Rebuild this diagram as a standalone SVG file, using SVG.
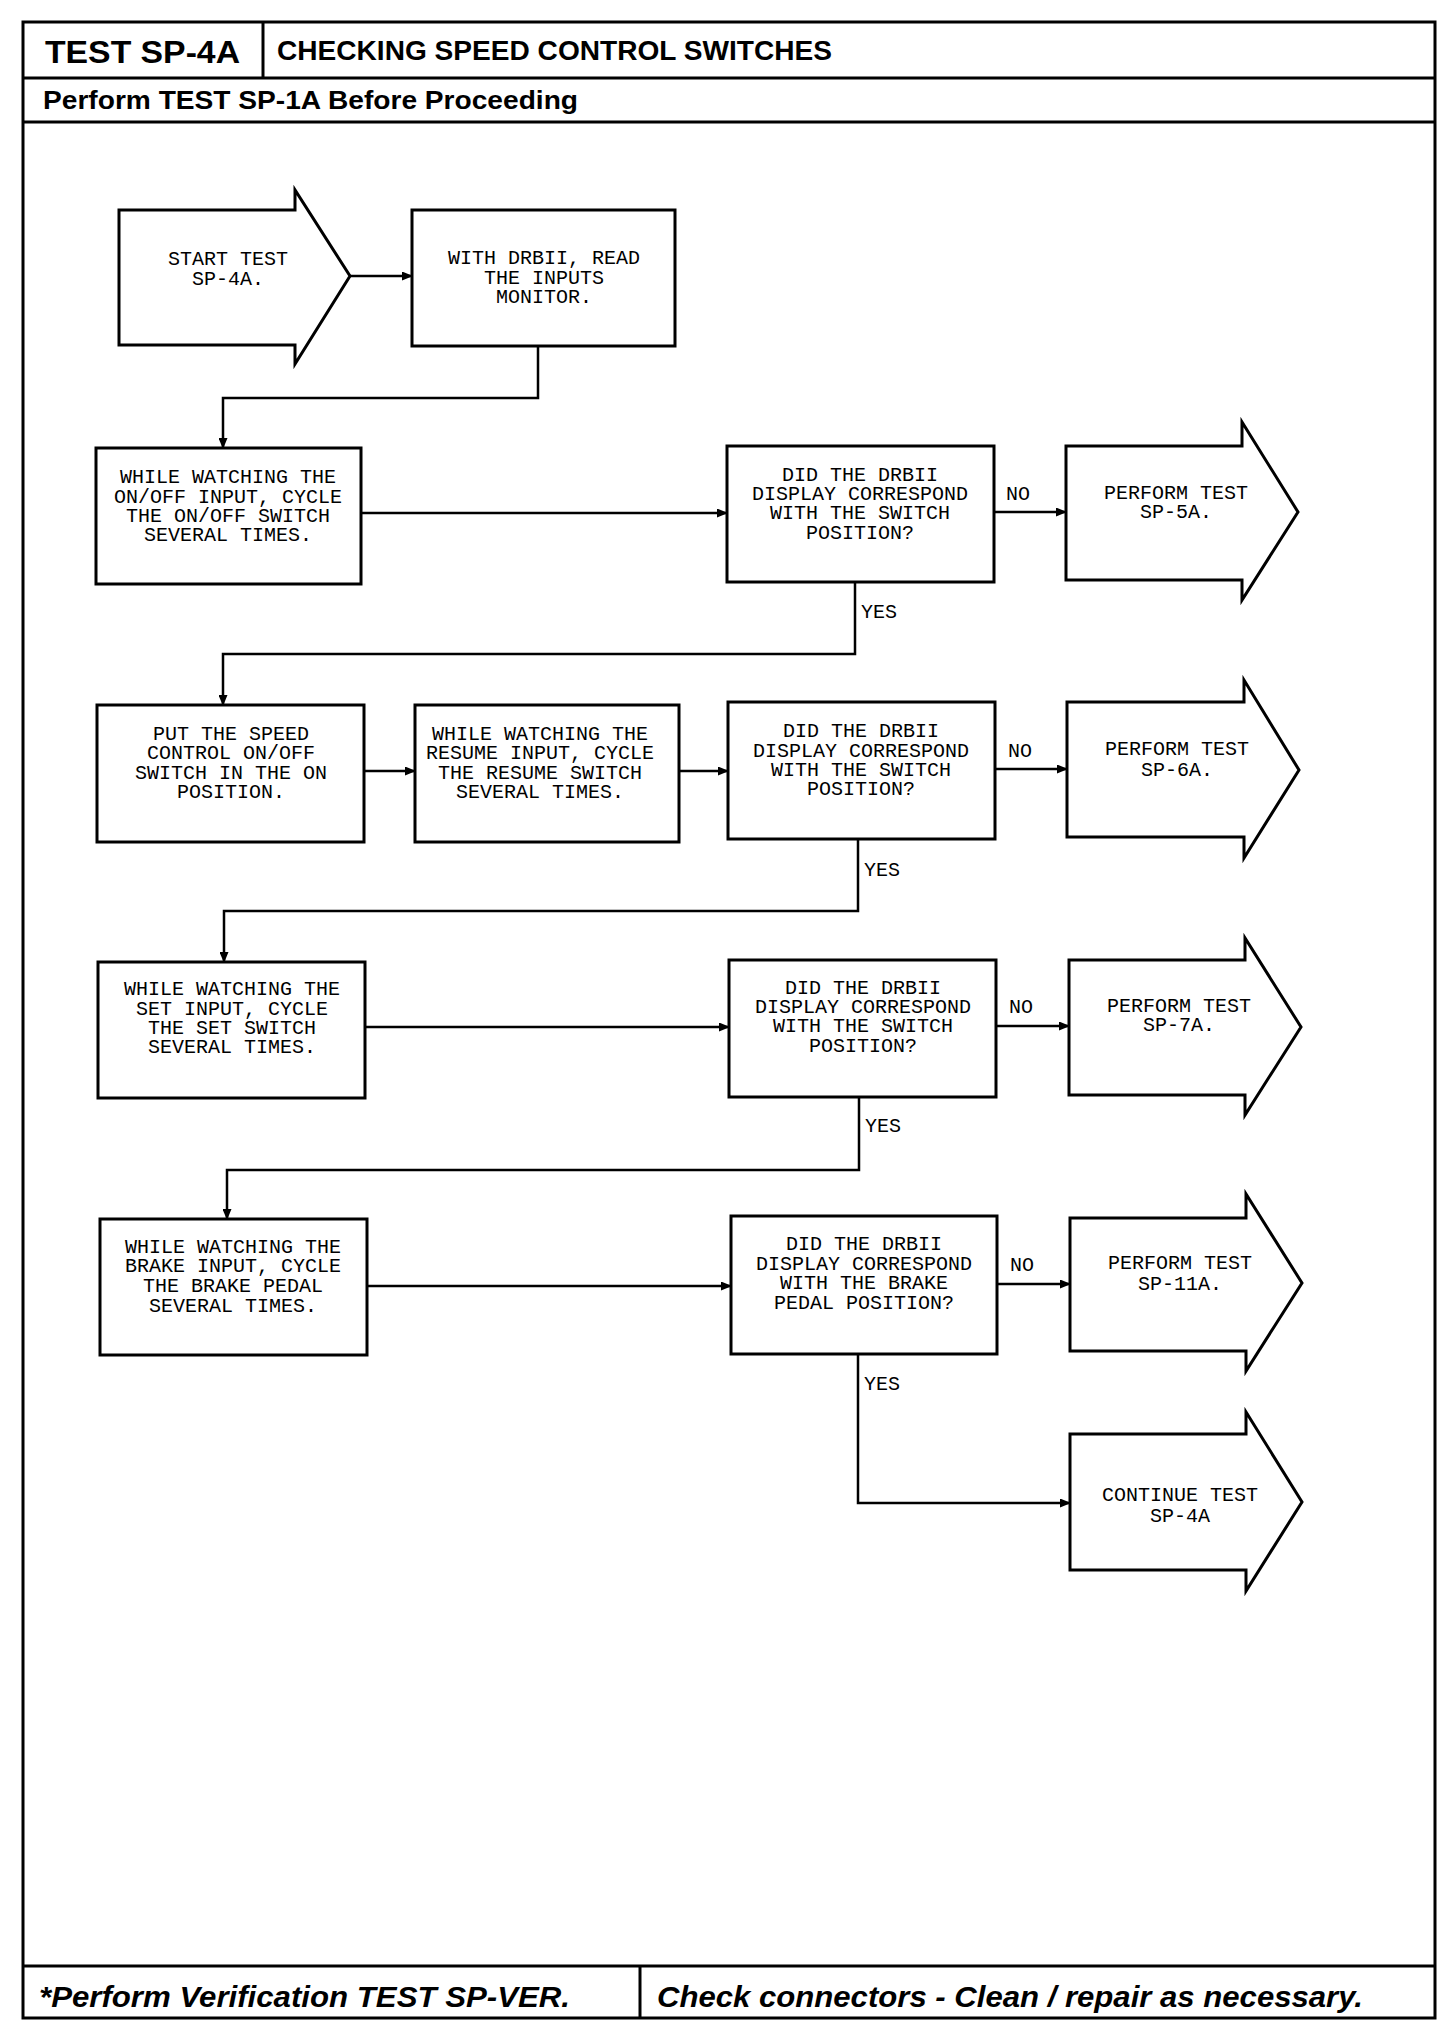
<svg xmlns="http://www.w3.org/2000/svg" width="1456" height="2032" viewBox="0 0 1456 2032">
<defs>
<marker id="ah" markerUnits="userSpaceOnUse" markerWidth="11" markerHeight="9" refX="10" refY="4.5" orient="auto">
<path d="M0,0 L11,4.5 L0,9 Z" fill="#000"/>
</marker>
<style>
.frame{fill:none;stroke:#000;stroke-width:3}
.node{fill:#fff;stroke:#000;stroke-width:3}
.conn{fill:none;stroke:#000;stroke-width:2.5;marker-end:url(#ah)}
.line{fill:none;stroke:#000;stroke-width:2.5}
.t{font-family:"Liberation Mono","DejaVu Sans Mono",monospace;font-size:20px;fill:#000;text-anchor:middle}
.lbl{font-family:"Liberation Mono","DejaVu Sans Mono",monospace;font-size:20px;fill:#000}
.hb{font-family:"Liberation Sans",Arial,sans-serif;font-weight:bold;fill:#000}
.fi{font-family:"Liberation Sans",Arial,sans-serif;font-weight:bold;font-style:italic;fill:#000;font-size:30px}
</style>
</defs>
<rect width="1456" height="2032" fill="#fff"/>
<g id="frame">
<rect class="frame" x="23" y="22" width="1412" height="1996"/>
<line class="frame" x1="23" y1="78" x2="1435" y2="78"/>
<line class="frame" x1="263" y1="22" x2="263" y2="78"/>
<line class="frame" x1="23" y1="122" x2="1435" y2="122"/>
<line class="frame" x1="23" y1="1966" x2="1435" y2="1966"/>
<line class="frame" x1="640" y1="1966" x2="640" y2="2018"/>
<text class="hb" x="45" y="63" font-size="32" textLength="195" lengthAdjust="spacingAndGlyphs">TEST SP-4A</text>
<text class="hb" x="277" y="60" font-size="27" textLength="555" lengthAdjust="spacingAndGlyphs">CHECKING SPEED CONTROL SWITCHES</text>
<text class="hb" x="43" y="109" font-size="26" textLength="535" lengthAdjust="spacingAndGlyphs">Perform TEST SP-1A Before Proceeding</text>
<text class="fi" x="39" y="2007" textLength="531" lengthAdjust="spacingAndGlyphs">*Perform Verification TEST SP-VER.</text>
<text class="fi" x="657" y="2007" textLength="706" lengthAdjust="spacingAndGlyphs">Check connectors - Clean / repair as necessary.</text>
</g>
<g id="connectors">
<path class="conn" d="M350,276 H412"/>
<path class="conn" d="M538,346 V398 H223 V448"/>
<path class="conn" d="M361,513 H727"/>
<path class="conn" d="M994,512 H1066"/>
<path class="conn" d="M855,582 V654 H223 V705"/>
<path class="conn" d="M364,771 H415"/>
<path class="conn" d="M679,771 H728"/>
<path class="conn" d="M995,769 H1067"/>
<path class="conn" d="M858,839 V911 H224 V962"/>
<path class="conn" d="M365,1027 H729"/>
<path class="conn" d="M996,1026 H1069"/>
<path class="conn" d="M859,1097 V1170 H227 V1219"/>
<path class="conn" d="M367,1286 H731"/>
<path class="conn" d="M997,1284 H1070"/>
<path class="conn" d="M858,1354 V1503 H1070"/>
<text class="lbl" x="1006" y="500">NO</text>
<text class="lbl" x="861" y="618">YES</text>
<text class="lbl" x="1008" y="757">NO</text>
<text class="lbl" x="864" y="876">YES</text>
<text class="lbl" x="1009" y="1013">NO</text>
<text class="lbl" x="865" y="1132">YES</text>
<text class="lbl" x="1010" y="1271">NO</text>
<text class="lbl" x="864" y="1390">YES</text>
</g>
<g id="start">
<path class="node" d="M119,210 H295 V190 L350,276 L295,364 V345 H119 Z"/>
<text class="t" x="228" y="265">START TEST</text>
<text class="t" x="228" y="285">SP-4A.</text>
</g>
<g id="read">
<rect class="node" x="412" y="210" width="263" height="136"/>
<text class="t" x="544" y="264">WITH DRBII, READ</text>
<text class="t" x="544" y="284">THE INPUTS</text>
<text class="t" x="544" y="303">MONITOR.</text>
</g>
<g id="onoff">
<rect class="node" x="96" y="448" width="265" height="136"/>
<text class="t" x="228" y="483">WHILE WATCHING THE</text>
<text class="t" x="228" y="503">ON/OFF INPUT, CYCLE</text>
<text class="t" x="228" y="522">THE ON/OFF SWITCH</text>
<text class="t" x="228" y="541">SEVERAL TIMES.</text>
</g>
<g id="q1">
<rect class="node" x="727" y="446" width="267" height="136"/>
<text class="t" x="860" y="481">DID THE DRBII</text>
<text class="t" x="860" y="500">DISPLAY CORRESPOND</text>
<text class="t" x="860" y="519">WITH THE SWITCH</text>
<text class="t" x="860" y="539">POSITION?</text>
</g>
<g id="sp5a">
<path class="node" d="M1066,446 H1242 V422 L1298,512 L1242,600 V580 H1066 Z"/>
<text class="t" x="1176" y="499">PERFORM TEST</text>
<text class="t" x="1176" y="518">SP-5A.</text>
</g>
<g id="speedon">
<rect class="node" x="97" y="705" width="267" height="137"/>
<text class="t" x="231" y="740">PUT THE SPEED</text>
<text class="t" x="231" y="759">CONTROL ON/OFF</text>
<text class="t" x="231" y="779">SWITCH IN THE ON</text>
<text class="t" x="231" y="798">POSITION.</text>
</g>
<g id="resume">
<rect class="node" x="415" y="705" width="264" height="137"/>
<text class="t" x="540" y="740">WHILE WATCHING THE</text>
<text class="t" x="540" y="759">RESUME INPUT, CYCLE</text>
<text class="t" x="540" y="779">THE RESUME SWITCH</text>
<text class="t" x="540" y="798">SEVERAL TIMES.</text>
</g>
<g id="q2">
<rect class="node" x="728" y="702" width="267" height="137"/>
<text class="t" x="861" y="737">DID THE DRBII</text>
<text class="t" x="861" y="757">DISPLAY CORRESPOND</text>
<text class="t" x="861" y="776">WITH THE SWITCH</text>
<text class="t" x="861" y="795">POSITION?</text>
</g>
<g id="sp6a">
<path class="node" d="M1067,702 H1244 V680 L1299,770 L1244,858 V837 H1067 Z"/>
<text class="t" x="1177" y="755">PERFORM TEST</text>
<text class="t" x="1177" y="776">SP-6A.</text>
</g>
<g id="set">
<rect class="node" x="98" y="962" width="267" height="136"/>
<text class="t" x="232" y="995">WHILE WATCHING THE</text>
<text class="t" x="232" y="1015">SET INPUT, CYCLE</text>
<text class="t" x="232" y="1034">THE SET SWITCH</text>
<text class="t" x="232" y="1053">SEVERAL TIMES.</text>
</g>
<g id="q3">
<rect class="node" x="729" y="960" width="267" height="137"/>
<text class="t" x="863" y="994">DID THE DRBII</text>
<text class="t" x="863" y="1013">DISPLAY CORRESPOND</text>
<text class="t" x="863" y="1032">WITH THE SWITCH</text>
<text class="t" x="863" y="1052">POSITION?</text>
</g>
<g id="sp7a">
<path class="node" d="M1069,960 H1245 V938 L1301,1027 L1245,1115 V1095 H1069 Z"/>
<text class="t" x="1179" y="1012">PERFORM TEST</text>
<text class="t" x="1179" y="1031">SP-7A.</text>
</g>
<g id="brake">
<rect class="node" x="100" y="1219" width="267" height="136"/>
<text class="t" x="233" y="1253">WHILE WATCHING THE</text>
<text class="t" x="233" y="1272">BRAKE INPUT, CYCLE</text>
<text class="t" x="233" y="1292">THE BRAKE PEDAL</text>
<text class="t" x="233" y="1312">SEVERAL TIMES.</text>
</g>
<g id="q4">
<rect class="node" x="731" y="1216" width="266" height="138"/>
<text class="t" x="864" y="1250">DID THE DRBII</text>
<text class="t" x="864" y="1270">DISPLAY CORRESPOND</text>
<text class="t" x="864" y="1289">WITH THE BRAKE</text>
<text class="t" x="864" y="1309">PEDAL POSITION?</text>
</g>
<g id="sp11a">
<path class="node" d="M1070,1218 H1246 V1194 L1302,1283 L1246,1371 V1351 H1070 Z"/>
<text class="t" x="1180" y="1269">PERFORM TEST</text>
<text class="t" x="1180" y="1290">SP-11A.</text>
</g>
<g id="continue">
<path class="node" d="M1070,1434 H1246 V1412 L1302,1502 L1246,1591 V1570 H1070 Z"/>
<text class="t" x="1180" y="1501">CONTINUE TEST</text>
<text class="t" x="1180" y="1522">SP-4A</text>
</g>
</svg>
